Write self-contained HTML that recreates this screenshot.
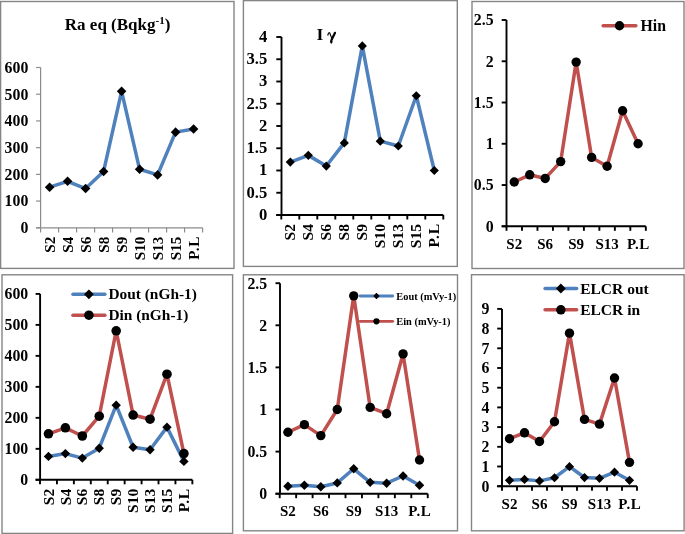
<!DOCTYPE html>
<html><head><meta charset="utf-8"><title>Charts</title>
<style>
html,body{margin:0;padding:0;background:#fff;width:685px;height:534px;overflow:hidden;}
svg{display:block;will-change:transform;}
</style></head>
<body>
<svg width="685" height="534" viewBox="0 0 685 534">

<rect x="0.60" y="1.50" width="233.40" height="266.90" fill="none" stroke="#858585" stroke-width="1.40"/>
<g stroke="#8c8c8c" stroke-width="1.20" fill="none" stroke-linecap="butt">
<path d="M40.60 67.50L40.60 227.80"/>
<path d="M36.10 227.80L202.60 227.80"/>
<path d="M36.10 227.80L40.60 227.80"/>
<path d="M36.10 201.08L40.60 201.08"/>
<path d="M36.10 174.37L40.60 174.37"/>
<path d="M36.10 147.65L40.60 147.65"/>
<path d="M36.10 120.93L40.60 120.93"/>
<path d="M36.10 94.22L40.60 94.22"/>
<path d="M36.10 67.50L40.60 67.50"/>
<path d="M40.60 227.80L40.60 232.40"/>
<path d="M58.60 227.80L58.60 232.40"/>
<path d="M76.60 227.80L76.60 232.40"/>
<path d="M94.60 227.80L94.60 232.40"/>
<path d="M112.60 227.80L112.60 232.40"/>
<path d="M130.60 227.80L130.60 232.40"/>
<path d="M148.60 227.80L148.60 232.40"/>
<path d="M166.60 227.80L166.60 232.40"/>
<path d="M184.60 227.80L184.60 232.40"/>
<path d="M202.60 227.80L202.60 232.40"/>
</g>
<g font-family="'Liberation Serif', serif" font-weight="bold" font-size="15.80" text-anchor="end" fill="#000">
<text x="28.30" y="233.10">0</text>
<text x="28.30" y="206.38">100</text>
<text x="28.30" y="179.67">200</text>
<text x="28.30" y="152.95">300</text>
<text x="28.30" y="126.23">400</text>
<text x="28.30" y="99.52">500</text>
<text x="28.30" y="72.80">600</text>
</g>
<g font-family="'Liberation Serif', serif" font-weight="bold" font-size="15.20" text-anchor="end" fill="#000">
<text transform="translate(54.62 236.60) rotate(-90)">S2</text>
<text transform="translate(72.62 236.60) rotate(-90)">S4</text>
<text transform="translate(90.62 236.60) rotate(-90)">S6</text>
<text transform="translate(108.62 236.60) rotate(-90)">S8</text>
<text transform="translate(126.62 236.60) rotate(-90)">S9</text>
<text transform="translate(144.62 236.60) rotate(-90)">S10</text>
<text transform="translate(162.62 236.60) rotate(-90)">S13</text>
<text transform="translate(180.62 236.60) rotate(-90)">S15</text>
<text transform="translate(198.62 236.60) rotate(-90)" dx="0 0.6 0.7">P.L</text>
</g>
<path d="M49.60 187.19L67.60 181.31L85.60 188.53L103.60 171.43L121.60 91.28L139.60 169.29L157.60 174.90L175.60 132.15L193.60 128.95" fill="none" stroke="#4F81BD" stroke-width="3.50" stroke-linejoin="round" stroke-linecap="round"/>
<path d="M49.60 182.39L54.40 187.19L49.60 191.99L44.80 187.19Z" fill="#000"/>
<path d="M67.60 176.51L72.40 181.31L67.60 186.11L62.80 181.31Z" fill="#000"/>
<path d="M85.60 183.73L90.40 188.53L85.60 193.33L80.80 188.53Z" fill="#000"/>
<path d="M103.60 166.63L108.40 171.43L103.60 176.23L98.80 171.43Z" fill="#000"/>
<path d="M121.60 86.48L126.40 91.28L121.60 96.08L116.80 91.28Z" fill="#000"/>
<path d="M139.60 164.49L144.40 169.29L139.60 174.09L134.80 169.29Z" fill="#000"/>
<path d="M157.60 170.10L162.40 174.90L157.60 179.70L152.80 174.90Z" fill="#000"/>
<path d="M175.60 127.35L180.40 132.15L175.60 136.95L170.80 132.15Z" fill="#000"/>
<path d="M193.60 124.15L198.40 128.95L193.60 133.75L188.80 128.95Z" fill="#000"/>
<text x="117.6" y="29.9" text-anchor="middle" font-family="'Liberation Serif', serif" font-weight="bold" font-size="17">Ra eq (Bqkg<tspan font-size="11" dy="-6">-1</tspan><tspan dy="6">)</tspan></text>
<rect x="243.40" y="0.60" width="213.90" height="265.80" fill="none" stroke="#858585" stroke-width="1.40"/>
<g stroke="#000" stroke-width="1.90" fill="none" stroke-linecap="butt">
<path d="M281.50 37.00L281.50 215.00"/>
<path d="M276.30 215.00L443.30 215.00"/>
<path d="M276.30 215.00L281.50 215.00"/>
<path d="M276.30 192.75L281.50 192.75"/>
<path d="M276.30 170.50L281.50 170.50"/>
<path d="M276.30 148.25L281.50 148.25"/>
<path d="M276.30 126.00L281.50 126.00"/>
<path d="M276.30 103.75L281.50 103.75"/>
<path d="M276.30 81.50L281.50 81.50"/>
<path d="M276.30 59.25L281.50 59.25"/>
<path d="M276.30 37.00L281.50 37.00"/>
<path d="M281.30 215.00L281.30 219.50"/>
<path d="M299.30 215.00L299.30 219.50"/>
<path d="M317.30 215.00L317.30 219.50"/>
<path d="M335.30 215.00L335.30 219.50"/>
<path d="M353.30 215.00L353.30 219.50"/>
<path d="M371.30 215.00L371.30 219.50"/>
<path d="M389.30 215.00L389.30 219.50"/>
<path d="M407.30 215.00L407.30 219.50"/>
<path d="M425.30 215.00L425.30 219.50"/>
<path d="M443.30 215.00L443.30 219.50"/>
</g>
<g font-family="'Liberation Serif', serif" font-weight="bold" font-size="16.60" text-anchor="end" fill="#000">
<text x="267.30" y="219.80">0</text>
<text x="267.30" y="197.55">0.5</text>
<text x="267.30" y="175.30">1</text>
<text x="267.30" y="153.05">1.5</text>
<text x="267.30" y="130.80">2</text>
<text x="267.30" y="108.55">2.5</text>
<text x="267.30" y="86.30">3</text>
<text x="267.30" y="64.05">3.5</text>
<text x="267.30" y="41.80">4</text>
</g>
<g font-family="'Liberation Serif', serif" font-weight="bold" font-size="15.50" text-anchor="end" fill="#000">
<text transform="translate(295.42 224.00) rotate(-90)">S2</text>
<text transform="translate(313.42 224.00) rotate(-90)">S4</text>
<text transform="translate(331.42 224.00) rotate(-90)">S6</text>
<text transform="translate(349.42 224.00) rotate(-90)">S8</text>
<text transform="translate(367.42 224.00) rotate(-90)">S9</text>
<text transform="translate(385.42 224.00) rotate(-90)">S10</text>
<text transform="translate(403.42 224.00) rotate(-90)">S13</text>
<text transform="translate(421.42 224.00) rotate(-90)">S15</text>
<text transform="translate(439.42 224.00) rotate(-90)" dx="0 0.6 0.7">P.L</text>
</g>
<path d="M290.30 162.05L308.30 155.37L326.30 166.05L344.30 142.91L362.30 45.90L380.30 141.13L398.30 146.02L416.30 95.74L434.30 170.50" fill="none" stroke="#4F81BD" stroke-width="3.50" stroke-linejoin="round" stroke-linecap="round"/>
<path d="M290.30 157.45L294.90 162.05L290.30 166.65L285.70 162.05Z" fill="#000"/>
<path d="M308.30 150.77L312.90 155.37L308.30 159.97L303.70 155.37Z" fill="#000"/>
<path d="M326.30 161.45L330.90 166.05L326.30 170.65L321.70 166.05Z" fill="#000"/>
<path d="M344.30 138.31L348.90 142.91L344.30 147.51L339.70 142.91Z" fill="#000"/>
<path d="M362.30 41.30L366.90 45.90L362.30 50.50L357.70 45.90Z" fill="#000"/>
<path d="M380.30 136.53L384.90 141.13L380.30 145.73L375.70 141.13Z" fill="#000"/>
<path d="M398.30 141.42L402.90 146.02L398.30 150.62L393.70 146.02Z" fill="#000"/>
<path d="M416.30 91.14L420.90 95.74L416.30 100.34L411.70 95.74Z" fill="#000"/>
<path d="M434.30 165.90L438.90 170.50L434.30 175.10L429.70 170.50Z" fill="#000"/>
<text x="316.4" y="39.8" font-family="'Liberation Serif', serif" font-weight="bold" font-size="17.6">I</text>
<path d="M327.9 35.1C328.1 33.3 328.9 32.2 329.7 32.9L331.9 38.6" stroke="#000" stroke-width="1.15" fill="none" stroke-linecap="round"/>
<path d="M334.9 32.9L331.7 39.4" stroke="#000" stroke-width="2.3" stroke-linecap="round"/>
<ellipse cx="331.3" cy="41.6" rx="1.25" ry="2.1" fill="#000"/>
<rect x="472.00" y="1.50" width="212.00" height="267.00" fill="none" stroke="#858585" stroke-width="1.40"/>
<g stroke="#000" stroke-width="1.90" fill="none" stroke-linecap="butt">
<path d="M506.50 20.00L506.50 226.30"/>
<path d="M501.70 226.30L645.82 226.30"/>
<path d="M501.70 226.30L506.50 226.30"/>
<path d="M501.70 185.04L506.50 185.04"/>
<path d="M501.70 143.78L506.50 143.78"/>
<path d="M501.70 102.52L506.50 102.52"/>
<path d="M501.70 61.26L506.50 61.26"/>
<path d="M501.70 20.00L506.50 20.00"/>
<path d="M506.50 226.30L506.50 230.80"/>
<path d="M521.98 226.30L521.98 230.80"/>
<path d="M537.46 226.30L537.46 230.80"/>
<path d="M552.94 226.30L552.94 230.80"/>
<path d="M568.42 226.30L568.42 230.80"/>
<path d="M583.90 226.30L583.90 230.80"/>
<path d="M599.38 226.30L599.38 230.80"/>
<path d="M614.86 226.30L614.86 230.80"/>
<path d="M630.34 226.30L630.34 230.80"/>
<path d="M645.82 226.30L645.82 230.80"/>
</g>
<g font-family="'Liberation Serif', serif" font-weight="bold" font-size="15.80" text-anchor="end" fill="#000">
<text x="493.60" y="231.60">0</text>
<text x="493.60" y="190.34">0.5</text>
<text x="493.60" y="149.08">1</text>
<text x="493.60" y="107.82">1.5</text>
<text x="493.60" y="66.56">2</text>
<text x="493.60" y="25.30">2.5</text>
</g>
<g font-family="'Liberation Serif', serif" font-weight="bold" font-size="15.00" text-anchor="middle" fill="#000">
<text x="514.24" y="248.60">S2</text>
<text x="545.20" y="248.60">S6</text>
<text x="576.16" y="248.60">S9</text>
<text x="607.12" y="248.60">S13</text>
<text x="638.08" y="248.60" dx="0 0.4 0.4">P.L</text>
</g>
<path d="M514.24 181.99L529.72 174.81L545.20 178.44L560.68 161.60L576.16 62.09L591.64 157.40L607.12 166.23L622.60 110.77L638.08 143.78" fill="none" stroke="#C0504D" stroke-width="3.50" stroke-linejoin="round" stroke-linecap="round"/>
<circle cx="514.24" cy="181.99" r="4.70" fill="#000"/>
<circle cx="529.72" cy="174.81" r="4.70" fill="#000"/>
<circle cx="545.20" cy="178.44" r="4.70" fill="#000"/>
<circle cx="560.68" cy="161.60" r="4.70" fill="#000"/>
<circle cx="576.16" cy="62.09" r="4.70" fill="#000"/>
<circle cx="591.64" cy="157.40" r="4.70" fill="#000"/>
<circle cx="607.12" cy="166.23" r="4.70" fill="#000"/>
<circle cx="622.60" cy="110.77" r="4.70" fill="#000"/>
<circle cx="638.08" cy="143.78" r="4.70" fill="#000"/>
<path d="M603.15 25.80L635.85 25.80" stroke="#C0504D" stroke-width="3.50" stroke-linecap="round"/>
<circle cx="619.50" cy="25.80" r="4.70" fill="#000"/>
<text x="640.50" y="31.40" font-family="'Liberation Serif', serif" font-weight="bold" font-size="15.80" fill="#000">Hin</text>
<rect x="2.00" y="274.80" width="230.60" height="258.60" fill="none" stroke="#858585" stroke-width="1.40"/>
<g stroke="#000" stroke-width="1.90" fill="none" stroke-linecap="butt">
<path d="M40.10 293.90L40.10 479.80"/>
<path d="M35.60 479.80L192.37 479.80"/>
<path d="M35.60 479.80L40.10 479.80"/>
<path d="M35.60 448.82L40.10 448.82"/>
<path d="M35.60 417.83L40.10 417.83"/>
<path d="M35.60 386.85L40.10 386.85"/>
<path d="M35.60 355.87L40.10 355.87"/>
<path d="M35.60 324.88L40.10 324.88"/>
<path d="M35.60 293.90L40.10 293.90"/>
<path d="M40.00 479.80L40.00 484.30"/>
<path d="M56.93 479.80L56.93 484.30"/>
<path d="M73.86 479.80L73.86 484.30"/>
<path d="M90.79 479.80L90.79 484.30"/>
<path d="M107.72 479.80L107.72 484.30"/>
<path d="M124.65 479.80L124.65 484.30"/>
<path d="M141.58 479.80L141.58 484.30"/>
<path d="M158.51 479.80L158.51 484.30"/>
<path d="M175.44 479.80L175.44 484.30"/>
<path d="M192.37 479.80L192.37 484.30"/>
</g>
<g font-family="'Liberation Serif', serif" font-weight="bold" font-size="15.80" text-anchor="end" fill="#000">
<text x="28.20" y="485.10">0</text>
<text x="28.20" y="454.12">100</text>
<text x="28.20" y="423.13">200</text>
<text x="28.20" y="392.15">300</text>
<text x="28.20" y="361.17">400</text>
<text x="28.20" y="330.18">500</text>
<text x="28.20" y="299.20">600</text>
</g>
<g font-family="'Liberation Serif', serif" font-weight="bold" font-size="15.50" text-anchor="end" fill="#000">
<text transform="translate(53.58 488.80) rotate(-90)">S2</text>
<text transform="translate(70.51 488.80) rotate(-90)">S4</text>
<text transform="translate(87.44 488.80) rotate(-90)">S6</text>
<text transform="translate(104.37 488.80) rotate(-90)">S8</text>
<text transform="translate(121.30 488.80) rotate(-90)">S9</text>
<text transform="translate(138.23 488.80) rotate(-90)">S10</text>
<text transform="translate(155.16 488.80) rotate(-90)">S13</text>
<text transform="translate(172.09 488.80) rotate(-90)">S15</text>
<text transform="translate(189.02 488.80) rotate(-90)" dx="0 0.6 0.7">P.L</text>
</g>
<path d="M48.47 456.41L65.39 453.59L82.33 458.11L99.25 448.20L116.19 405.13L133.12 447.27L150.05 449.75L166.97 427.13L183.91 461.40" fill="none" stroke="#4F81BD" stroke-width="3.50" stroke-linejoin="round" stroke-linecap="round"/>
<path d="M48.47 451.71L53.17 456.41L48.47 461.11L43.77 456.41Z" fill="#000"/>
<path d="M65.39 448.89L70.09 453.59L65.39 458.29L60.69 453.59Z" fill="#000"/>
<path d="M82.33 453.41L87.03 458.11L82.33 462.81L77.62 458.11Z" fill="#000"/>
<path d="M99.25 443.50L103.95 448.20L99.25 452.90L94.55 448.20Z" fill="#000"/>
<path d="M116.19 400.43L120.89 405.13L116.19 409.83L111.48 405.13Z" fill="#000"/>
<path d="M133.12 442.57L137.81 447.27L133.12 451.97L128.42 447.27Z" fill="#000"/>
<path d="M150.05 445.05L154.75 449.75L150.05 454.45L145.35 449.75Z" fill="#000"/>
<path d="M166.97 422.43L171.67 427.13L166.97 431.83L162.28 427.13Z" fill="#000"/>
<path d="M183.91 456.70L188.60 461.40L183.91 466.10L179.21 461.40Z" fill="#000"/>
<path d="M48.47 433.79L65.39 427.81L82.33 435.99L99.25 416.19L116.19 330.77L133.12 415.04L150.05 419.20L166.97 374.18L183.91 453.59" fill="none" stroke="#C0504D" stroke-width="3.50" stroke-linejoin="round" stroke-linecap="round"/>
<circle cx="48.47" cy="433.79" r="4.80" fill="#000"/>
<circle cx="65.39" cy="427.81" r="4.80" fill="#000"/>
<circle cx="82.33" cy="435.99" r="4.80" fill="#000"/>
<circle cx="99.25" cy="416.19" r="4.80" fill="#000"/>
<circle cx="116.19" cy="330.77" r="4.80" fill="#000"/>
<circle cx="133.12" cy="415.04" r="4.80" fill="#000"/>
<circle cx="150.05" cy="419.20" r="4.80" fill="#000"/>
<circle cx="166.97" cy="374.18" r="4.80" fill="#000"/>
<circle cx="183.91" cy="453.59" r="4.80" fill="#000"/>
<path d="M72.95 294.30L104.85 294.30" stroke="#4F81BD" stroke-width="3.50" stroke-linecap="round"/>
<path d="M88.90 289.40L93.80 294.30L88.90 299.20L84.00 294.30Z" fill="#000"/>
<text x="108.40" y="299.20" font-family="'Liberation Serif', serif" font-weight="bold" font-size="15.40" fill="#000">Dout (nGh-1)</text>
<path d="M72.95 315.20L104.85 315.20" stroke="#C0504D" stroke-width="3.50" stroke-linecap="round"/>
<circle cx="88.90" cy="315.20" r="4.75" fill="#000"/>
<text x="108.40" y="319.80" font-family="'Liberation Serif', serif" font-weight="bold" font-size="15.40" fill="#000">Din (nGh-1)</text>
<rect x="243.40" y="274.80" width="214.10" height="256.00" fill="none" stroke="#858585" stroke-width="1.40"/>
<g stroke="#000" stroke-width="1.90" fill="none" stroke-linecap="butt">
<path d="M280.00 283.20L280.00 493.70"/>
<path d="M275.50 493.70L427.75 493.70"/>
<path d="M275.50 493.70L280.00 493.70"/>
<path d="M275.50 451.60L280.00 451.60"/>
<path d="M275.50 409.50L280.00 409.50"/>
<path d="M275.50 367.40L280.00 367.40"/>
<path d="M275.50 325.30L280.00 325.30"/>
<path d="M275.50 283.20L280.00 283.20"/>
<path d="M279.70 493.70L279.70 498.20"/>
<path d="M296.15 493.70L296.15 498.20"/>
<path d="M312.60 493.70L312.60 498.20"/>
<path d="M329.05 493.70L329.05 498.20"/>
<path d="M345.50 493.70L345.50 498.20"/>
<path d="M361.95 493.70L361.95 498.20"/>
<path d="M378.40 493.70L378.40 498.20"/>
<path d="M394.85 493.70L394.85 498.20"/>
<path d="M411.30 493.70L411.30 498.20"/>
<path d="M427.75 493.70L427.75 498.20"/>
</g>
<g font-family="'Liberation Serif', serif" font-weight="bold" font-size="15.80" text-anchor="end" fill="#000">
<text x="267.20" y="499.00">0</text>
<text x="267.20" y="456.90">0.5</text>
<text x="267.20" y="414.80">1</text>
<text x="267.20" y="372.70">1.5</text>
<text x="267.20" y="330.60">2</text>
<text x="267.20" y="288.50">2.5</text>
</g>
<g font-family="'Liberation Serif', serif" font-weight="bold" font-size="15.00" text-anchor="middle" fill="#000">
<text x="287.93" y="516.30">S2</text>
<text x="320.82" y="516.30">S6</text>
<text x="353.72" y="516.30">S9</text>
<text x="386.62" y="516.30">S13</text>
<text x="419.52" y="516.30" dx="0 0.4 0.4">P.L</text>
</g>
<path d="M287.93 486.21L304.38 485.28L320.82 486.71L337.27 482.92L353.72 468.78L370.17 482.33L386.62 483.18L403.07 476.02L419.52 485.28" fill="none" stroke="#4F81BD" stroke-width="3.50" stroke-linejoin="round" stroke-linecap="round"/>
<path d="M287.93 481.51L292.62 486.21L287.93 490.91L283.23 486.21Z" fill="#000"/>
<path d="M304.38 480.58L309.07 485.28L304.38 489.98L299.68 485.28Z" fill="#000"/>
<path d="M320.82 482.01L325.52 486.71L320.82 491.41L316.12 486.71Z" fill="#000"/>
<path d="M337.27 478.22L341.97 482.92L337.27 487.62L332.57 482.92Z" fill="#000"/>
<path d="M353.72 464.08L358.42 468.78L353.72 473.48L349.02 468.78Z" fill="#000"/>
<path d="M370.17 477.63L374.87 482.33L370.17 487.03L365.47 482.33Z" fill="#000"/>
<path d="M386.62 478.48L391.32 483.18L386.62 487.88L381.93 483.18Z" fill="#000"/>
<path d="M403.07 471.32L407.77 476.02L403.07 480.72L398.38 476.02Z" fill="#000"/>
<path d="M419.52 480.58L424.22 485.28L419.52 489.98L414.82 485.28Z" fill="#000"/>
<path d="M287.93 432.23L304.38 424.66L320.82 435.60L337.27 409.50L353.72 295.83L370.17 407.39L386.62 413.71L403.07 353.93L419.52 460.02" fill="none" stroke="#C0504D" stroke-width="3.50" stroke-linejoin="round" stroke-linecap="round"/>
<circle cx="287.93" cy="432.23" r="4.70" fill="#000"/>
<circle cx="304.38" cy="424.66" r="4.70" fill="#000"/>
<circle cx="320.82" cy="435.60" r="4.70" fill="#000"/>
<circle cx="337.27" cy="409.50" r="4.70" fill="#000"/>
<circle cx="353.72" cy="295.83" r="4.70" fill="#000"/>
<circle cx="370.17" cy="407.39" r="4.70" fill="#000"/>
<circle cx="386.62" cy="413.71" r="4.70" fill="#000"/>
<circle cx="403.07" cy="353.93" r="4.70" fill="#000"/>
<circle cx="419.52" cy="460.02" r="4.70" fill="#000"/>
<path d="M360.20 296.00L392.70 296.00" stroke="#4F81BD" stroke-width="2.80" stroke-linecap="round"/>
<path d="M376.45 292.80L379.65 296.00L376.45 299.20L373.25 296.00Z" fill="#000"/>
<text x="396.30" y="300.10" font-family="'Liberation Serif', serif" font-weight="bold" font-size="10.40" fill="#000">Eout (mVy-1)</text>
<path d="M360.20 321.30L392.70 321.30" stroke="#C0504D" stroke-width="2.80" stroke-linecap="round"/>
<circle cx="376.45" cy="321.30" r="3.10" fill="#000"/>
<text x="396.30" y="325.10" font-family="'Liberation Serif', serif" font-weight="bold" font-size="10.40" fill="#000">Ein (mVy-1)</text>
<rect x="471.50" y="274.70" width="212.60" height="256.10" fill="none" stroke="#858585" stroke-width="1.40"/>
<g stroke="#000" stroke-width="1.90" fill="none" stroke-linecap="butt">
<path d="M502.00 308.90L502.00 486.20"/>
<path d="M497.20 486.20L637.00 486.20"/>
<path d="M497.20 486.20L502.00 486.20"/>
<path d="M497.20 466.50L502.00 466.50"/>
<path d="M497.20 446.80L502.00 446.80"/>
<path d="M497.20 427.10L502.00 427.10"/>
<path d="M497.20 407.40L502.00 407.40"/>
<path d="M497.20 387.70L502.00 387.70"/>
<path d="M497.20 368.00L502.00 368.00"/>
<path d="M497.20 348.30L502.00 348.30"/>
<path d="M497.20 328.60L502.00 328.60"/>
<path d="M497.20 308.90L502.00 308.90"/>
<path d="M502.00 486.20L502.00 490.70"/>
<path d="M517.00 486.20L517.00 490.70"/>
<path d="M532.00 486.20L532.00 490.70"/>
<path d="M547.00 486.20L547.00 490.70"/>
<path d="M562.00 486.20L562.00 490.70"/>
<path d="M577.00 486.20L577.00 490.70"/>
<path d="M592.00 486.20L592.00 490.70"/>
<path d="M607.00 486.20L607.00 490.70"/>
<path d="M622.00 486.20L622.00 490.70"/>
<path d="M637.00 486.20L637.00 490.70"/>
</g>
<g font-family="'Liberation Serif', serif" font-weight="bold" font-size="15.80" text-anchor="end" fill="#000">
<text x="489.40" y="491.50">0</text>
<text x="489.40" y="471.80">1</text>
<text x="489.40" y="452.10">2</text>
<text x="489.40" y="432.40">3</text>
<text x="489.40" y="412.70">4</text>
<text x="489.40" y="393.00">5</text>
<text x="489.40" y="373.30">6</text>
<text x="489.40" y="353.60">7</text>
<text x="489.40" y="333.90">8</text>
<text x="489.40" y="314.20">9</text>
</g>
<g font-family="'Liberation Serif', serif" font-weight="bold" font-size="15.00" text-anchor="middle" fill="#000">
<text x="509.50" y="508.50">S2</text>
<text x="539.50" y="508.50">S6</text>
<text x="569.50" y="508.50">S9</text>
<text x="599.50" y="508.50">S13</text>
<text x="629.50" y="508.50" dx="0 0.4 0.4">P.L</text>
</g>
<path d="M509.50 480.29L524.50 479.40L539.50 480.88L554.50 477.73L569.50 466.70L584.50 477.53L599.50 478.32L614.50 472.21L629.50 480.29" fill="none" stroke="#4F81BD" stroke-width="3.50" stroke-linejoin="round" stroke-linecap="round"/>
<path d="M509.50 475.69L514.10 480.29L509.50 484.89L504.90 480.29Z" fill="#000"/>
<path d="M524.50 474.80L529.10 479.40L524.50 484.00L519.90 479.40Z" fill="#000"/>
<path d="M539.50 476.28L544.10 480.88L539.50 485.48L534.90 480.88Z" fill="#000"/>
<path d="M554.50 473.13L559.10 477.73L554.50 482.33L549.90 477.73Z" fill="#000"/>
<path d="M569.50 462.10L574.10 466.70L569.50 471.30L564.90 466.70Z" fill="#000"/>
<path d="M584.50 472.93L589.10 477.53L584.50 482.13L579.90 477.53Z" fill="#000"/>
<path d="M599.50 473.72L604.10 478.32L599.50 482.92L594.90 478.32Z" fill="#000"/>
<path d="M614.50 467.61L619.10 472.21L614.50 476.81L609.90 472.21Z" fill="#000"/>
<path d="M629.50 475.69L634.10 480.29L629.50 484.89L624.90 480.29Z" fill="#000"/>
<path d="M509.50 438.72L524.50 432.81L539.50 441.48L554.50 421.78L569.50 333.13L584.50 419.42L599.50 424.14L614.50 378.05L629.50 462.36" fill="none" stroke="#C0504D" stroke-width="3.50" stroke-linejoin="round" stroke-linecap="round"/>
<circle cx="509.50" cy="438.72" r="4.70" fill="#000"/>
<circle cx="524.50" cy="432.81" r="4.70" fill="#000"/>
<circle cx="539.50" cy="441.48" r="4.70" fill="#000"/>
<circle cx="554.50" cy="421.78" r="4.70" fill="#000"/>
<circle cx="569.50" cy="333.13" r="4.70" fill="#000"/>
<circle cx="584.50" cy="419.42" r="4.70" fill="#000"/>
<circle cx="599.50" cy="424.14" r="4.70" fill="#000"/>
<circle cx="614.50" cy="378.05" r="4.70" fill="#000"/>
<circle cx="629.50" cy="462.36" r="4.70" fill="#000"/>
<path d="M545.05 288.50L576.65 288.50" stroke="#4F81BD" stroke-width="3.50" stroke-linecap="round"/>
<path d="M560.85 283.60L565.75 288.50L560.85 293.40L555.95 288.50Z" fill="#000"/>
<text x="580.20" y="293.70" font-family="'Liberation Serif', serif" font-weight="bold" font-size="15.50" fill="#000">ELCR out</text>
<path d="M545.05 309.80L576.65 309.80" stroke="#C0504D" stroke-width="3.50" stroke-linecap="round"/>
<circle cx="560.85" cy="309.80" r="4.75" fill="#000"/>
<text x="580.20" y="314.50" font-family="'Liberation Serif', serif" font-weight="bold" font-size="15.50" fill="#000">ELCR in</text>
</svg>
</body></html>
